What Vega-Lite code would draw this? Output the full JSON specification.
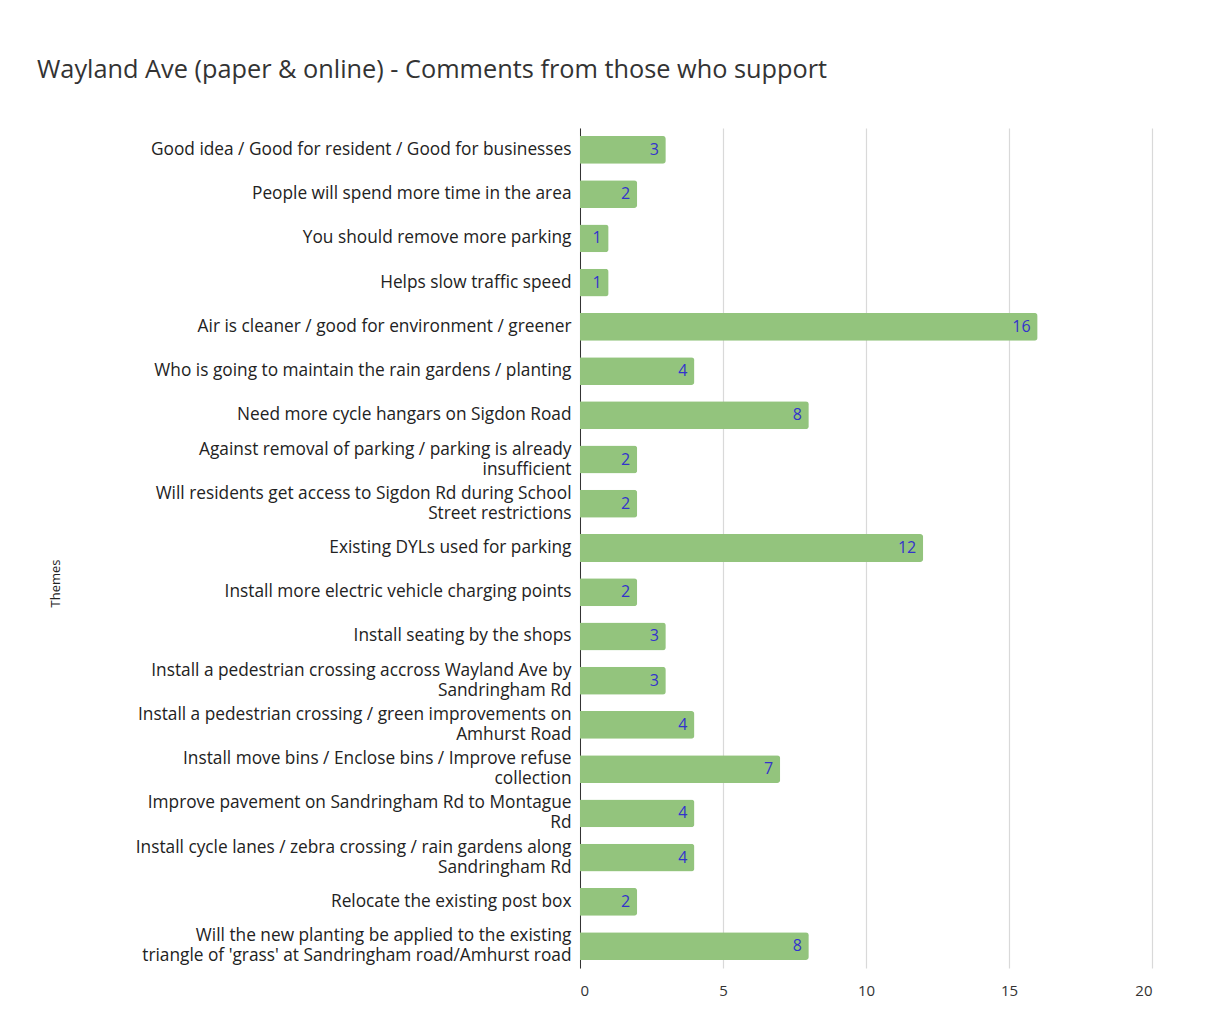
{
  "$schema": "https://vega.github.io/schema/vega-lite/v6.json",
  "autosize": {"type": "none"},
  "width": 572,
  "height": 840,
  "padding": {"left": 580, "top": 128, "right": 80, "bottom": 65},
  "background": "white",
  "title": {
    "text": "Wayland Ave (paper & online) - Comments from those who support",
    "anchor": "start",
    "frame": "group",
    "font": "Open Sans",
    "fontSize": 25.3,
    "fontWeight": "normal",
    "color": "#333333",
    "dx": -543,
    "offset": 45
  },
  "data": {
    "values": [
      {"theme": "Good idea / Good for resident / Good for businesses", "count": 3},
      {"theme": "People will spend more time in the area", "count": 2},
      {"theme": "You should remove more parking", "count": 1},
      {"theme": "Helps slow traffic speed", "count": 1},
      {"theme": "Air is cleaner / good for environment / greener", "count": 16},
      {"theme": "Who is going to maintain the rain gardens / planting", "count": 4},
      {"theme": "Need more cycle hangars on Sigdon Road", "count": 8},
      {"theme": "Against removal of parking / parking is already|insufficient", "count": 2},
      {"theme": "Will residents get access to Sigdon Rd during School|Street restrictions", "count": 2},
      {"theme": "Existing DYLs used for parking", "count": 12},
      {"theme": "Install more electric vehicle charging points", "count": 2},
      {"theme": "Install seating by the shops", "count": 3},
      {"theme": "Install a pedestrian crossing accross Wayland Ave by|Sandringham Rd", "count": 3},
      {"theme": "Install a pedestrian crossing / green improvements on|Amhurst Road", "count": 4},
      {"theme": "Install move bins / Enclose bins / Improve refuse|collection", "count": 7},
      {"theme": "Improve pavement on Sandringham Rd to Montague|Rd", "count": 4},
      {"theme": "Install cycle lanes / zebra crossing / rain gardens along|Sandringham Rd", "count": 4},
      {"theme": "Relocate the existing post box", "count": 2},
      {"theme": "Will the new planting be applied to the existing|triangle of 'grass' at Sandringham road/Amhurst road", "count": 8}
    ]
  },
  "encoding": {
    "y": {
      "field": "theme",
      "type": "nominal",
      "sort": null,
      "scale": {"paddingInner": 0.37, "paddingOuter": 0.18},
      "axis": {
        "title": "Themes",
        "titleFont": "Open Sans",
        "titleFontSize": 13,
        "titleFontWeight": "normal",
        "titleColor": "#222222",
        "titleX": -518,
        "titleY": 455,
        "titleAngle": -90,
        "labelFont": "Open Sans",
        "labelFontSize": 17.3,
        "labelColor": "#222222",
        "labelLimit": 0,
        "labelPadding": 9,
        "labelLineHeight": 20,
        "labelExpr": "split(datum.label, '|')",
        "labelOffset": {"condition": {"test": "indexof(datum.value, '|') >= 0", "value": -10}, "value": 0},
        "ticks": false,
        "domainColor": "#333333",
        "domainWidth": 1
      }
    },
    "x": {
      "field": "count",
      "type": "quantitative",
      "scale": {"domain": [0, 20], "nice": false},
      "axis": {
        "title": null,
        "values": [0, 5, 10, 15, 20],
        "labelFont": "Open Sans",
        "labelFontSize": 15,
        "labelColor": "#333333",
        "labelPadding": 15,
        "ticks": false,
        "domain": false,
        "gridColor": "#d9d9d9",
        "gridWidth": 1.2
      }
    }
  },
  "layer": [
    {
      "mark": {"type": "bar", "color": "#93c47d", "cornerRadiusEnd": 3}
    },
    {
      "mark": {"type": "text", "align": "right", "dx": -7, "font": "Open Sans", "fontSize": 16, "color": "#3333cc", "baseline": "middle"},
      "encoding": {"text": {"field": "count", "type": "quantitative"}}
    }
  ],
  "config": {"view": {"stroke": null}}
}
